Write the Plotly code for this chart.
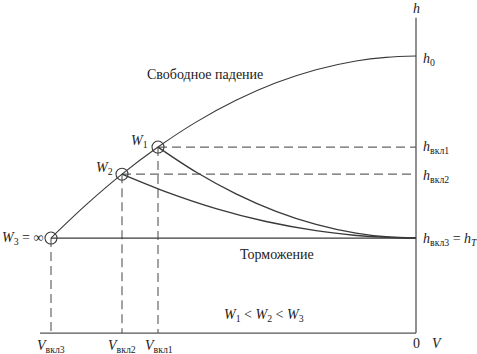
import plotly.graph_objects as go

# ---- data (schematic units) ----
# switch-on speeds (V axis, negative to the left of 0)
V_vkl1 = -2.58
V_vkl2 = -2.94
V_vkl3 = -3.65
# heights
h0 = 10.0
h_vkl1 = 5.0
h_vkl2 = 3.51
h_T = 0.0
h_axis = -5.22      # level of the V axis
V_axis_start = -3.76
h_axis_top = 12.1

# free-fall curve
ff_V = [-3.65, -3.3, -2.94, -2.58, -2.2, -1.8, -1.4, -1.0, -0.6, -0.3, 0.0]
ff_h = [0.0, 1.82, 3.51, 5.0, 6.37, 7.57, 8.53, 9.25, 9.73, 9.93, 10.0]
# braking curve from W1
b1_V = [-2.58, -2.2, -1.8, -1.4, -1.0, -0.6, -0.3, 0.0]
b1_h = [5.0, 3.63, 2.43, 1.47, 0.75, 0.27, 0.07, 0.0]
# braking curve from W2
b2_V = [-2.94, -2.5, -2.0, -1.5, -1.0, -0.5, 0.0]
b2_h = [3.51, 2.54, 1.62, 0.91, 0.41, 0.10, 0.0]

pts_V = [V_vkl1, V_vkl2, V_vkl3]
pts_h = [h_vkl1, h_vkl2, h_T]

LINE = "#3a3a3a"
AX = "#555555"
DASH = "#666666"
FONT = "Liberation Serif"

fig = go.Figure()

def line(x, y, color=LINE, width=1.0, dash="solid", shape="linear"):
    fig.add_trace(go.Scatter(x=x, y=y, mode="lines", hoverinfo="skip",
                             line=dict(color=color, width=width, dash=dash, shape=shape)))

# dashed guides
line([V_vkl1, 0], [h_vkl1, h_vkl1], DASH, 1.2, "9px,5px")
line([V_vkl2, 0], [h_vkl2, h_vkl2], DASH, 1.2, "9px,5px")
for v, h in zip(pts_V, pts_h):
    line([v, v], [h, h_axis], DASH, 1.2, "9px,5px")

# axes
line([0, 0], [h_axis, h_axis_top], AX, 1.3)
line([V_axis_start, 0], [h_axis, h_axis], AX, 1.3)

# braking line W3 (horizontal)
line([V_vkl3, 0], [h_T, h_T], LINE, 1.3)
# curves
line(ff_V, ff_h, LINE, 1.1, shape="spline")
line(b1_V, b1_h, LINE, 1.4, shape="spline")
line(b2_V, b2_h, LINE, 1.4, shape="spline")

# circles
fig.add_trace(go.Scatter(x=pts_V, y=pts_h, mode="markers", hoverinfo="skip",
                         marker=dict(symbol="circle-open", size=12,
                                     line=dict(color=LINE, width=1.1), color=LINE)))

def txt(x, y, s, xa="center", size=14):
    fig.add_annotation(x=x, y=y, text=s, showarrow=False, xanchor=xa, yanchor="middle",
                       font=dict(family=FONT, size=size, color="#222222"))

txt(0, 12.64, "<i>h</i>")
txt(0.05, 9.8, "<i>h</i><sub>0</sub>", "left")
txt(0.05, 4.95, "<i>h</i><sub>вкл1</sub>", "left")
txt(0.05, 3.4, "<i>h</i><sub>вкл2</sub>", "left")
txt(0.05, -0.1, "<i>h</i><sub>вкл3</sub> = <i>h</i><sub><i>T</i></sub>", "left")
txt(0, -5.8, "0")
txt(0.21, -5.8, "<i>V</i>")
txt(V_vkl3, -5.95, "<i>V</i><sub>вкл3</sub>")
txt(V_vkl2, -5.95, "<i>V</i><sub>вкл2</sub>")
txt(V_vkl1 + 0.005, -5.95, "<i>V</i><sub>вкл1</sub>")
txt(-2.66, 5.3, "<i>W</i><sub>1</sub>", "right")
txt(-3.01, 3.8, "<i>W</i><sub>2</sub>", "right")
txt(-3.71, 0.0, "<i>W</i><sub>3</sub> = ∞", "right")
txt(-2.11, 8.96, "Свободное падение")
txt(-1.39, -0.93, "Торможение")
txt(-1.52, -4.23, "<i>W</i><sub>1</sub> < <i>W</i><sub>2</sub> < <i>W</i><sub>3</sub>")

fig.update_layout(
    width=477, height=354, margin=dict(l=0, r=0, t=0, b=0),
    paper_bgcolor="white", plot_bgcolor="white", showlegend=False,
    font=dict(family=FONT),
    xaxis=dict(range=[-4.16, 0.61], visible=False, fixedrange=True),
    yaxis=dict(range=[-6.37, 13.08], visible=False, fixedrange=True),
)
fig.write_html("out.html")
